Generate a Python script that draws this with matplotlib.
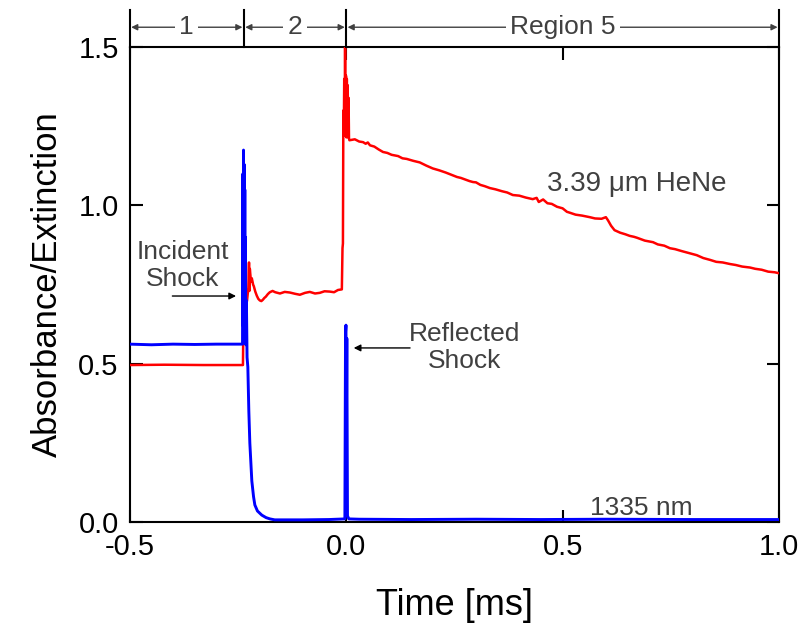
import matplotlib
matplotlib.use("Agg")
import matplotlib.pyplot as plt

plt.rcParams['font.family'] = ['Liberation Sans', 'DejaVu Sans']
plt.rcParams['axes.unicode_minus'] = False

# ---- red trace: 3.39 um HeNe ----
red_t = [-0.500, -0.420, -0.330, -0.2385, -0.2380, -0.2365, -0.2290, -0.2260,
         -0.2245, -0.2236, -0.2226, -0.2200, -0.2180, -0.2150, -0.2134, -0.2100,
         -0.2065, -0.2030, -0.1995, -0.1960, -0.1926, -0.1890, -0.1856, -0.1810,
         -0.1764, -0.1700, -0.1640, -0.1530, -0.1420, -0.1300, -0.1180, -0.1070,
         -0.0950, -0.0840, -0.0720, -0.0610, -0.0500, -0.0380, -0.0280, -0.0190,
         -0.0100, -0.0085, -0.0075, -0.0065, -0.0055, -0.0045, -0.0035, -0.0025,
         -0.0015, -0.0005, 0.0005, 0.0015, 0.0025, 0.0035, 0.0045, 0.0055,
         0.0065, 0.0075,
         0.020, 0.030, 0.039, 0.045, 0.050, 0.055, 0.065, 0.075, 0.085, 0.095,
         0.105, 0.120, 0.130, 0.140, 0.155, 0.170, 0.185, 0.200, 0.215, 0.230,
         0.245, 0.256, 0.265, 0.275, 0.285, 0.293, 0.300, 0.310, 0.320, 0.332,
         0.345, 0.360, 0.372, 0.385, 0.400, 0.415, 0.431, 0.440, 0.445, 0.455,
         0.465, 0.475, 0.487, 0.500, 0.510, 0.517, 0.530, 0.545, 0.563, 0.575,
         0.590, 0.600, 0.605, 0.612, 0.620, 0.633, 0.645, 0.655, 0.665, 0.672,
         0.680, 0.690, 0.709, 0.720, 0.735, 0.748, 0.760, 0.775, 0.794, 0.810,
         0.825, 0.841, 0.855, 0.870, 0.887, 0.900, 0.915, 0.933, 0.945, 0.960,
         0.975, 0.990, 1.000]
red_v = [0.496, 0.497, 0.496, 0.496, 0.560, 0.650, 0.700, 0.740,
         0.820, 0.730, 0.800, 0.760, 0.770, 0.750, 0.745, 0.728,
         0.715, 0.705, 0.700, 0.698, 0.702, 0.708, 0.712, 0.720,
         0.726, 0.730, 0.726, 0.722, 0.727, 0.725, 0.721, 0.718,
         0.724, 0.727, 0.722, 0.724, 0.729, 0.728, 0.726, 0.733,
         0.735, 0.865, 0.880, 1.300, 1.220, 1.400, 1.230, 1.500,
         1.220, 1.410, 1.215, 1.400, 1.220, 1.380, 1.215, 1.340,
         1.212, 1.206,
         1.209, 1.202, 1.200, 1.195, 1.199, 1.190, 1.186, 1.177, 1.169, 1.166,
         1.160, 1.156, 1.149, 1.147, 1.141, 1.136, 1.126, 1.117, 1.111, 1.104,
         1.096, 1.090, 1.087, 1.082, 1.077, 1.074, 1.073, 1.065, 1.061, 1.055,
         1.051, 1.045, 1.041, 1.033, 1.031, 1.025, 1.020, 1.024, 1.011, 1.019,
         1.007, 1.005, 0.996, 0.991, 0.980, 0.977, 0.971, 0.968, 0.963, 0.959,
         0.958, 0.963, 0.953, 0.936, 0.922, 0.914, 0.909, 0.904, 0.901, 0.898,
         0.894, 0.889, 0.884, 0.877, 0.873, 0.865, 0.862, 0.856, 0.849, 0.843,
         0.834, 0.828, 0.822, 0.820, 0.815, 0.812, 0.807, 0.804, 0.800, 0.797,
         0.791, 0.789, 0.786]

# ---- blue trace: 1335 nm ----
blue_t = [-0.500, -0.450, -0.400, -0.350, -0.300, -0.2395, -0.2387, -0.2380,
          -0.2372, -0.2365, -0.2358, -0.2350, -0.2342, -0.2335, -0.2327,
          -0.2318, -0.2305, -0.2290, -0.2272, -0.2249, -0.2226, -0.2180,
          -0.2140, -0.2110, -0.2050, -0.1950, -0.1850, -0.1760, -0.1650,
          -0.1000, -0.0400, -0.0030, -0.0015, -0.0005, 0.0005, 0.0015,
          0.0030, 0.0060, 0.0300, 0.1500, 0.3000, 0.4500, 0.6000,
          0.8000, 1.0000]
blue_v = [0.562, 0.560, 0.562, 0.561, 0.562, 0.562, 1.100, 0.620,
          1.175, 0.700, 1.130, 0.600, 1.050, 0.580, 0.900,
          0.560, 0.700, 0.520, 0.490, 0.350, 0.250, 0.130,
          0.080, 0.054, 0.035, 0.022, 0.014, 0.010, 0.007,
          0.007, 0.008, 0.010, 0.600, 0.622, 0.300, 0.580,
          0.020, 0.010, 0.009, 0.008, 0.009, 0.008, 0.009,
          0.008, 0.008]

# region boundaries (ms)
region_edges = [-0.5, -0.2364, 0.0, 1.0]
region_labels = ["1", "2", "Region 5"]

fig = plt.figure(figsize=(8.06, 6.29), dpi=100)
ax = fig.add_axes([0.161, 0.170, 0.8055, 0.755])

ax.plot(red_t, red_v, color='#ff0000', lw=1.8, zorder=3)
ax.plot(blue_t, blue_v, color='#0000ff', lw=2.1, zorder=4)

ax.set_xlim(-0.5, 1.0)
ax.set_ylim(0.0, 1.5)
ax.set_xticks([-0.5, 0.0, 0.5, 1.0])
ax.set_yticks([0.0, 0.5, 1.0, 1.5])
ax.tick_params(direction='in', length=9, width=1.5, labelsize=21,
               top=True, right=True, pad=8)
for s in ax.spines.values():
    s.set_linewidth(1.5)

ax.set_xlabel("Time [ms]", fontsize=26, labelpad=19)
ax.set_ylabel("Absorbance/Extinction", fontsize=25, labelpad=10)

# region markers above the frame
y_bar = 1.563
for xe in region_edges:
    ax.plot([xe, xe], [1.5, 1.617], color='k', lw=1.5, clip_on=False, zorder=5)
grey = '#404040'
for x0, x1, lab in zip(region_edges[:-1], region_edges[1:], region_labels):
    ax.annotate("", xy=(x0, y_bar), xytext=(x1, y_bar), annotation_clip=False,
                arrowprops=dict(arrowstyle='<|-|>', color=grey, lw=1.0,
                                shrinkA=1, shrinkB=1,
                                mutation_scale=9))
    ax.text((x0 + x1) / 2, y_bar, lab, fontsize=19, color=grey,
            ha='center', va='center', clip_on=False,
            bbox=dict(facecolor='white', edgecolor='none', pad=3))

# annotations
ax.text(-0.377, 0.81, "Incident\nShock", fontsize=19, color=grey,
        ha='center', va='center', linespacing=1.15)
ax.annotate("", xy=(-0.248, 0.714), xytext=(-0.408, 0.714),
            arrowprops=dict(arrowstyle='-|>', color='k', lw=1.0,
                            mutation_scale=10))
ax.text(0.274, 0.552, "Reflected\nShock", fontsize=19, color=grey,
        ha='center', va='center', linespacing=1.15)
ax.annotate("", xy=(0.011, 0.55), xytext=(0.154, 0.55),
            arrowprops=dict(arrowstyle='-|>', color='k', lw=1.0,
                            mutation_scale=10))
ax.text(0.672, 1.067, "3.39 \u03bcm HeNe", fontsize=20, color=grey,
        ha='center', va='center')
ax.text(0.681, 0.046, "1335 nm", fontsize=19, color=grey,
        ha='center', va='center')

fig.savefig("out.png", dpi=100)
